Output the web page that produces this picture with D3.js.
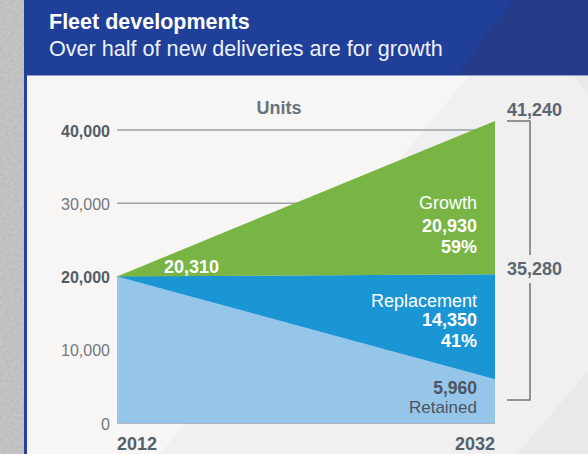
<!DOCTYPE html>
<html>
<head>
<meta charset="utf-8">
<script src="https://cdn.jsdelivr.net/npm/d3@7"></script>
<style>
  html, body { margin: 0; padding: 0; background: #b5b5b5; }
  svg { display: block; }
  text { font-family: "Liberation Sans", Arial, Helvetica, sans-serif; }
</style>
</head>
<body>
<script>
// ---- data ----
const years = [2012, 2032];
const retained = [20000, 5960];
const replacement = [0, 14350];
const growth = [0, 20930];
const yTicks = [0, 10000, 20000, 30000, 40000];
const yTickBold = [false, false, true, false, true];
const title = "Fleet developments";
const subtitle = "Over half of new deliveries are for growth";
const unitLabel = "Units";

const W = 588, H = 454;
const svg = d3.select("body").append("svg").attr("width", W).attr("height", H);

// background texture strip
const defs = svg.append("defs");
const f = defs.append("filter").attr("id", "noise").attr("x", 0).attr("y", 0).attr("width", "100%").attr("height", "100%");
f.append("feTurbulence").attr("type", "fractalNoise").attr("baseFrequency", 0.35).attr("numOctaves", 2).attr("seed", 3).attr("result", "t");
f.append("feColorMatrix").attr("type", "matrix")
  .attr("values", "0 0 0 0 0.71  0 0 0 0 0.71  0 0 0 0 0.71  0 0 0 -0.9 1.05");
svg.append("rect").attr("x", 0).attr("y", 0).attr("width", 26).attr("height", H).attr("fill", "#b3b3b3");
svg.append("rect").attr("x", 0).attr("y", 0).attr("width", 26).attr("height", H).attr("fill", "#a9a9a9").attr("filter", "url(#noise)").attr("opacity", 0.6);

// panel
svg.append("rect").attr("x", 24).attr("y", 0).attr("width", W - 24).attr("height", H).attr("fill", "#2a3f9e");
svg.append("rect").attr("x", 27).attr("y", 76).attr("width", W - 27).attr("height", H - 76).attr("fill", "#f7f6f4");
svg.append("polygon").attr("points", "468,76 588,76 588,454 160,454").attr("fill", "#f0f0f0");
svg.append("polygon").attr("points", "588,371 588,454 517,454").attr("fill", "#e9e9e9");
svg.append("polygon").attr("points", "575,76 588,76 588,96").attr("fill", "#e9e9e9");
// header
svg.append("rect").attr("x", 24).attr("y", 0).attr("width", W - 24).attr("height", 75).attr("fill", "#1f3f99");
svg.append("polygon").attr("points", "513,0 588,0 588,75 457,75").attr("fill", "#253b88");
svg.append("line").attr("x1", 27).attr("x2", W).attr("y1", 75.5).attr("y2", 75.5).attr("stroke", "#8e9fd0").attr("stroke-width", 1);

svg.append("text").attr("x", 49).attr("y", 29).attr("fill", "#ffffff")
  .attr("font-size", 21.5).attr("font-weight", "bold").text(title);
svg.append("text").attr("x", 49).attr("y", 56).attr("fill", "#eef1fa")
  .attr("font-size", 21.6).text(subtitle);

// ---- scales ----
const x = d3.scaleLinear().domain([2012, 2032]).range([117, 495]);
const y = d3.scaleLinear().domain([0, 40000]).range([423, 130]);

// gridlines
const grid = svg.append("g");
grid.selectAll("line").data(yTicks).join("line")
  .attr("x1", x(2012)).attr("x2", x(2032))
  .attr("y1", d => y(d)).attr("y2", d => y(d))
  .attr("stroke", "#9da2a8").attr("stroke-width", 1.5);

// tick labels
svg.append("g").selectAll("text").data(yTicks).join("text")
  .attr("x", 110).attr("y", d => y(d) + 6.5)
  .attr("text-anchor", "end")
  .attr("font-size", 16)
  .attr("font-weight", (d, i) => yTickBold[i] ? "bold" : "normal")
  .attr("fill", (d, i) => yTickBold[i] ? "#525c66" : "#737880")
  .text(d => d3.format(",")(d));

// stacked areas
const rows = years.map((yr, i) => ({ year: yr, retained: retained[i], replacement: replacement[i], growth: growth[i] }));
const stack = d3.stack().keys(["retained", "replacement", "growth"]);
const series = stack(rows);
const colors = { retained: "#96c5ea", replacement: "#1a96d5", growth: "#79b544" };
const area = d3.area().x(d => x(d.data.year)).y0(d => y(d[0])).y1(d => y(d[1]));
svg.append("g").selectAll("path").data(series).join("path")
  .attr("d", area).attr("fill", s => colors[s.key]);

const fmt = d3.format(",");
const last = rows[rows.length - 1];
const total = last.retained + last.replacement + last.growth;
const newDel = last.replacement + last.growth;
const lx = x(2032) - 18;

// units
svg.append("text").attr("x", 279).attr("y", 114).attr("text-anchor", "middle")
  .attr("font-size", 18).attr("font-weight", "bold").attr("fill", "#69727b").text(unitLabel);

// labels in areas
function lab(txt, xx, yy, bold, color, anchor, size) {
  svg.append("text").attr("x", xx).attr("y", yy).attr("text-anchor", anchor || "end")
    .attr("font-size", size || 18).attr("font-weight", bold ? "bold" : "normal").attr("fill", color).text(txt);
}
lab("Growth", lx, 209, false, "#ffffff");
lab(fmt(last.growth), lx, 231.5, true, "#ffffff");
lab(Math.round(last.growth / newDel * 100) + "%", lx, 253, true, "#ffffff");
lab("Replacement", lx, 307, false, "#ffffff");
lab(fmt(last.replacement), lx, 326, true, "#ffffff");
lab(Math.round(last.replacement / newDel * 100) + "%", lx, 347, true, "#ffffff");
lab(fmt(last.retained), lx, 394, true, "#4c5560", "end", 17.5);
lab("Retained", lx, 413, false, "#4c5560", "end", 17);
lab(fmt(last.retained + last.replacement), 164, 272.5, true, "#ffffff", "start");

// x labels
svg.append("text").attr("x", x(2012)).attr("y", 450).attr("font-size", 18).attr("font-weight", "bold")
  .attr("fill", "#55606a").text(years[0]);
svg.append("text").attr("x", x(2032)).attr("y", 450).attr("text-anchor", "end").attr("font-size", 18).attr("font-weight", "bold")
  .attr("fill", "#55606a").text(years[1]);

// bracket
const bx = 530, btop = y(total), bbot = 400;
const br = svg.append("g").attr("stroke", "#6f757c").attr("stroke-width", 1.5).attr("fill", "none");
br.append("path").attr("d", `M507,${btop}H${bx}V255`);
br.append("path").attr("d", `M${bx},283V${bbot}H507`);
svg.append("text").attr("x", 507).attr("y", 116).attr("font-size", 18).attr("font-weight", "bold")
  .attr("fill", "#5c6670").text(fmt(total));
svg.append("text").attr("x", 507).attr("y", 275).attr("font-size", 18).attr("font-weight", "bold")
  .attr("fill", "#5c6670").text(fmt(newDel));
</script>
</body>
</html>
